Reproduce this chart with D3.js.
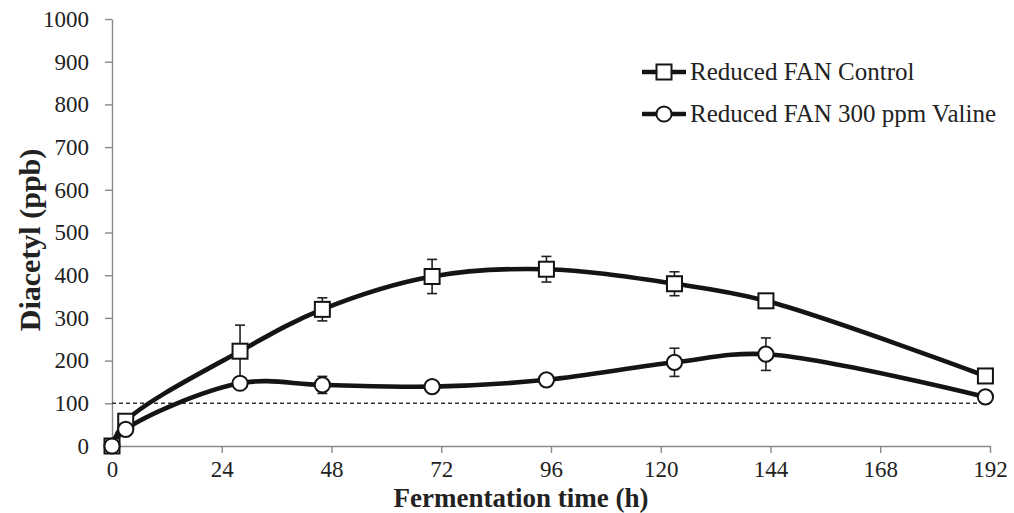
<!DOCTYPE html>
<html>
<head>
<meta charset="utf-8">
<script src="https://cdnjs.cloudflare.com/ajax/libs/d3/7.8.5/d3.min.js"></script>
<style>
  html, body { margin: 0; padding: 0; background: #fff; }
  svg { display: block; }
</style>
</head>
<body>
<div id="chart"></div>
<script>
// Sampling times (h)
const hours = [0, 3, 28, 46, 70, 95, 123, 143, 191];

// Diacetyl (ppb), mean and error for each series
const controlMean = [0, 58, 222, 320, 397, 414, 380, 340, 164];
const controlErr  = [0, 0, 61, 27, 40, 30, 28, 0, 0];
const valineMean  = [0, 39, 147, 143, 139, 155, 196, 215, 115];
const valineErr   = [0, 0, 0, 20, 0, 0, 33, 38, 0];

// Flavour threshold (ppb)
const threshold = 100;

const seriesNames = ["Reduced FAN Control", "Reduced FAN 300 ppm Valine"];
const xTicks = [0, 24, 48, 72, 96, 120, 144, 168, 192];
const yTicks = [0, 100, 200, 300, 400, 500, 600, 700, 800, 900, 1000];

const W = 1014, H = 513;
const margin = { left: 112, right: 24, top: 19, bottom: 67 };
const SERIF = "'Liberation Serif', 'Times New Roman', 'DejaVu Serif', serif";

const svg = d3.select("#chart").append("svg")
  .attr("width", W).attr("height", H);

const x = d3.scaleLinear().domain([0, 192]).range([margin.left, W - margin.right]);
const y = d3.scaleLinear().domain([0, 1000]).range([H - margin.bottom, margin.top]);

const axisColor = "#8a8a8a";

// Axes
const xAxis = svg.append("g")
  .attr("transform", `translate(0,${y(0)})`)
  .call(d3.axisBottom(x).tickValues(xTicks).tickFormat(d => String(d))
    .tickSize(7).tickSizeOuter(0).tickPadding(8));
const yAxis = svg.append("g")
  .attr("transform", `translate(${x(0)},0)`)
  .call(d3.axisLeft(y).tickValues(yTicks).tickFormat(d => String(d))
    .tickSize(7).tickSizeOuter(0).tickPadding(16));

[xAxis, yAxis].forEach(g => {
  g.attr("font-family", null).attr("font-size", null);
  g.select(".domain").attr("stroke", axisColor).attr("stroke-width", 1.4);
  g.selectAll(".tick line").attr("stroke", axisColor).attr("stroke-width", 1.4);
  g.selectAll(".tick text")
    .style("font-family", SERIF)
    .style("font-size", "23px")
    .attr("fill", "#222");
});

// Threshold line
svg.append("line")
  .attr("x1", x(0)).attr("x2", x(192))
  .attr("y1", y(threshold)).attr("y2", y(threshold))
  .attr("stroke", "#333").attr("stroke-width", 1.6)
  .attr("stroke-dasharray", "4,3");

const makeSeries = (mean, err) => hours.map((h, i) => ({ h, v: mean[i], e: err[i] }));
const series = [
  { name: seriesNames[0], data: makeSeries(controlMean, controlErr), marker: "square" },
  { name: seriesNames[1], data: makeSeries(valineMean, valineErr), marker: "circle" }
];

const line = d3.line()
  .x(d => x(d.h)).y(d => y(d.v))
  .curve(d3.curveCatmullRom.alpha(0.5));

const ink = "#141414";

// Smoothed lines
series.forEach(s => {
  svg.append("path")
    .datum(s.data)
    .attr("fill", "none")
    .attr("stroke", ink)
    .attr("stroke-width", 4.6)
    .attr("stroke-linejoin", "round")
    .attr("d", line);
});

// Error bars
series.forEach(s => {
  const g = svg.append("g").attr("stroke", "#222").attr("stroke-width", 1.6);
  s.data.filter(d => d.e > 0).forEach(d => {
    const cx = x(d.h);
    g.append("line").attr("x1", cx).attr("x2", cx)
      .attr("y1", y(d.v + d.e)).attr("y2", y(d.v - d.e));
    [d.v + d.e, d.v - d.e].forEach(v => {
      g.append("line").attr("x1", cx - 5).attr("x2", cx + 5)
        .attr("y1", y(v)).attr("y2", y(v));
    });
  });
});

// Markers
function drawMarker(g, type, cx, cy) {
  if (type === "square") {
    g.append("rect")
      .attr("x", cx - 7.5).attr("y", cy - 7.5)
      .attr("width", 15).attr("height", 15)
      .attr("fill", "#fff").attr("stroke", ink).attr("stroke-width", 2);
  } else {
    g.append("circle")
      .attr("cx", cx).attr("cy", cy).attr("r", 7.6)
      .attr("fill", "#fff").attr("stroke", ink).attr("stroke-width", 2);
  }
}

series.forEach(s => {
  const g = svg.append("g");
  s.data.forEach(d => drawMarker(g, s.marker, x(d.h), y(d.v)));
});

// Legend
const legend = svg.append("g");
series.forEach((s, i) => {
  const ly = 72 + i * 42;
  legend.append("line")
    .attr("x1", 642).attr("x2", 686).attr("y1", ly).attr("y2", ly)
    .attr("stroke", ink).attr("stroke-width", 4.5);
  drawMarker(legend, s.marker, 664, ly);
  legend.append("text")
    .attr("x", 690).attr("y", ly + 8)
    .style("font-family", SERIF)
    .style("font-size", "25px")
    .attr("fill", "#222")
    .text(s.name);
});

// Axis titles
svg.append("text")
  .attr("x", 521).attr("y", 507)
  .attr("text-anchor", "middle")
  .style("font-family", SERIF)
  .style("font-size", "27px").style("font-weight", "bold")
  .attr("fill", "#222")
  .text("Fermentation time (h)");

svg.append("text")
  .attr("transform", `translate(40,240) rotate(-90)`)
  .attr("text-anchor", "middle")
  .style("font-family", SERIF)
  .style("font-size", "30px").style("font-weight", "bold")
  .attr("fill", "#222")
  .text("Diacetyl (ppb)");
</script>
</body>
</html>
